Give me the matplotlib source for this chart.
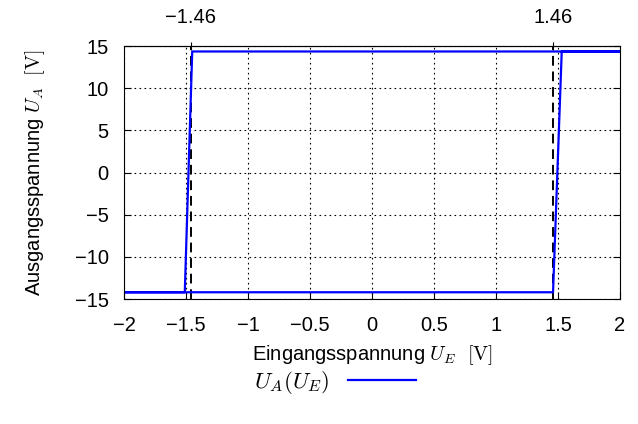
import matplotlib
matplotlib.use("Agg")
import matplotlib.pyplot as plt

# hysteresis loop of the comparator
loop_x = [-2.0, 1.46, 1.53, 2.0, -1.45, -1.51, -2.0]
loop_y = [-14.2, -14.2, 14.35, 14.35, 14.35, -14.2, -14.2]
thresholds = [-1.46, 1.46]
threshold_labels = ["\u22121.46", "1.46"]
xticks = [-2, -1.5, -1, -0.5, 0, 0.5, 1, 1.5, 2]
yticks = [-15, -10, -5, 0, 5, 10, 15]

plt.rcParams['font.family'] = ['Liberation Sans', 'DejaVu Sans']
plt.rcParams['mathtext.fontset'] = 'cm'
plt.rcParams['font.size'] = 14.5

fig = plt.figure(figsize=(6.38, 4.24), dpi=100)
ax = fig.add_axes([0.1944, 0.2948, 0.7774, 0.5967])

line, = ax.plot(loop_x, loop_y, color='#0000ff', lw=1.6, label=r'$U_A(U_E)$')
for t in thresholds:
    ax.axvline(t, color='black', lw=1.4, ls=(0, (5, 3)), zorder=1)

ax.set_xlim(-2, 2)
ax.set_ylim(-15, 15)
ax.set_xticks(xticks)
ax.set_xticklabels([f"{v:g}".replace("-", "\u2212") for v in xticks])
ax.set_yticks(yticks)
ax.set_yticklabels([f"{v:g}".replace("-", "\u2212") for v in yticks])
ax.grid(True, color='black', ls=(0, (1.5, 3)), lw=0.8)
ax.tick_params(direction='in', top=False, right=True, length=5)
ax.tick_params(axis='x', pad=12)
ax.tick_params(axis='y', pad=11)

top = ax.secondary_xaxis('top')
top.set_xticks(thresholds)
top.set_xticklabels(threshold_labels)
top.tick_params(direction='inout', length=6, pad=11)

ax.set_xlabel(r'Eingangsspannung $U_E\ \ \mathrm{[V]}$', labelpad=6)
ax.set_ylabel(r'Ausgangsspannung $U_A\ \ \mathrm{[V]}$', labelpad=20)

fig.legend(handles=[line], loc='center', bbox_to_anchor=(0.525, 0.097),
           frameon=False, markerfirst=False, handlelength=3.0,
           handletextpad=0.8, fontsize=16.5)

fig.savefig('out.png', dpi=100)
